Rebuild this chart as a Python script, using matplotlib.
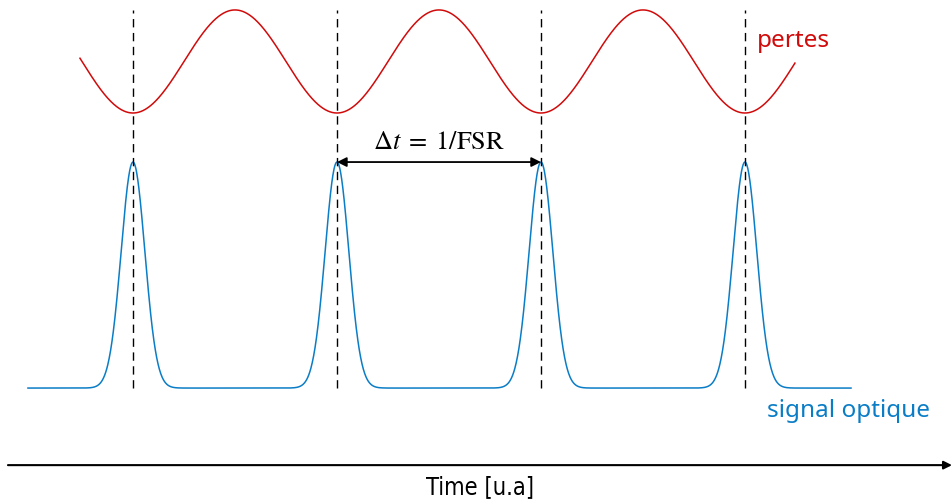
import numpy as np
import matplotlib
matplotlib.use('Agg')
import matplotlib.pyplot as plt

# pulse train (time in units of 1/FSR, amplitude normalised)
pulse_centers = [0.0, 1.0, 2.0, 3.0]
pulse_sigma = 0.058
signal_span = [-0.515, 3.52]

# losses (modulated at the round-trip period)
loss_min = 1.217
loss_max = 1.673
loss_span = [-0.26, 3.245]

red = '#d10a0a'
blue = '#0a7dc6'

fig = plt.figure(figsize=(9.52, 5.04), dpi=100)
ax = fig.add_axes([0, 0, 1, 1])
ax.set_xlim(-0.652, 4.015)
ax.set_ylim(-0.513, 1.717)
ax.axis('off')

t = np.linspace(signal_span[0], signal_span[1], 3000)
sig = np.zeros_like(t)
for c in pulse_centers:
    sig += np.exp(-0.5 * ((t - c) / pulse_sigma) ** 2)
ax.plot(t, sig, color=blue, lw=1.1)

tl = np.linspace(loss_span[0], loss_span[1], 2000)
mid = (loss_min + loss_max) / 2
amp = (loss_max - loss_min) / 2
ax.plot(tl, mid - amp * np.cos(2 * np.pi * tl), color=red, lw=1.1)

for c in pulse_centers:
    ax.plot([c, c], [0, loss_max], color='black', lw=1.0,
            ls=(0, (6, 4)))

ax.annotate('', xy=(pulse_centers[2], 1.0), xytext=(pulse_centers[1], 1.0),
            arrowprops=dict(arrowstyle='<|-|>', color='black', lw=1.3,
                            mutation_scale=14, shrinkA=0, shrinkB=0))
plt.rcParams['mathtext.fontset'] = 'stix'
ax.text(1.5, 1.03, r'$\Delta t\; =\; 1/\mathrm{FSR}$', ha='center', va='bottom',
        fontsize=19, family='STIXGeneral')

ax.text(3.06, 1.535, 'pertes', color=red, fontsize=17.5, family='Noto Sans',
        ha='left', va='center')
ax.text(3.11, -0.10, 'signal optique', color=blue, fontsize=17.5,
        family='Noto Sans', ha='left', va='center')

ax.annotate('', xy=(4.015, -0.341), xytext=(-0.613, -0.341),
            arrowprops=dict(arrowstyle='-|>', color='black', lw=1.5,
                            mutation_scale=12, shrinkA=0, shrinkB=0))
ax.text(1.70, -0.44, 'Time [u.a]', fontsize=17, ha='center', va='center',
        family='DejaVu Sans', fontstretch='condensed')

fig.savefig('out.png', dpi=100)
